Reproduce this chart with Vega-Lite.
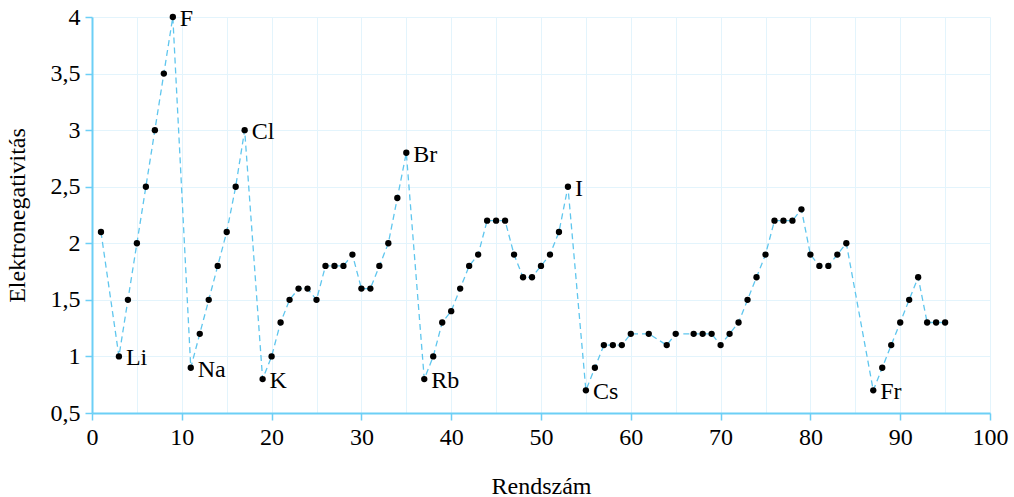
{
  "$schema": "https://vega.github.io/schema/vega-lite/v6.json",
  "width": 898,
  "height": 396,
  "autosize": "none",
  "padding": {"left": 92, "top": 17, "right": 24, "bottom": 84},
  "background": "white",
  "config": {
    "font": "Liberation Serif",
    "view": {"stroke": null}
  },
  "data": {"values": [
    {"z":1,"en":2.1,"sym":""},{"z":3,"en":1.0,"sym":"Li"},{"z":4,"en":1.5,"sym":""},{"z":5,"en":2.0,"sym":""},{"z":6,"en":2.5,"sym":""},{"z":7,"en":3.0,"sym":""},{"z":8,"en":3.5,"sym":""},{"z":9,"en":4.0,"sym":"F"},
    {"z":11,"en":0.9,"sym":"Na"},{"z":12,"en":1.2,"sym":""},{"z":13,"en":1.5,"sym":""},{"z":14,"en":1.8,"sym":""},{"z":15,"en":2.1,"sym":""},{"z":16,"en":2.5,"sym":""},{"z":17,"en":3.0,"sym":"Cl"},
    {"z":19,"en":0.8,"sym":"K"},{"z":20,"en":1.0,"sym":""},{"z":21,"en":1.3,"sym":""},{"z":22,"en":1.5,"sym":""},{"z":23,"en":1.6,"sym":""},{"z":24,"en":1.6,"sym":""},{"z":25,"en":1.5,"sym":""},{"z":26,"en":1.8,"sym":""},{"z":27,"en":1.8,"sym":""},{"z":28,"en":1.8,"sym":""},{"z":29,"en":1.9,"sym":""},{"z":30,"en":1.6,"sym":""},{"z":31,"en":1.6,"sym":""},{"z":32,"en":1.8,"sym":""},{"z":33,"en":2.0,"sym":""},{"z":34,"en":2.4,"sym":""},{"z":35,"en":2.8,"sym":"Br"},
    {"z":37,"en":0.8,"sym":"Rb"},{"z":38,"en":1.0,"sym":""},{"z":39,"en":1.3,"sym":""},{"z":40,"en":1.4,"sym":""},{"z":41,"en":1.6,"sym":""},{"z":42,"en":1.8,"sym":""},{"z":43,"en":1.9,"sym":""},{"z":44,"en":2.2,"sym":""},{"z":45,"en":2.2,"sym":""},{"z":46,"en":2.2,"sym":""},{"z":47,"en":1.9,"sym":""},{"z":48,"en":1.7,"sym":""},{"z":49,"en":1.7,"sym":""},{"z":50,"en":1.8,"sym":""},{"z":51,"en":1.9,"sym":""},{"z":52,"en":2.1,"sym":""},{"z":53,"en":2.5,"sym":"I"},
    {"z":55,"en":0.7,"sym":"Cs"},{"z":56,"en":0.9,"sym":""},{"z":57,"en":1.1,"sym":""},{"z":58,"en":1.1,"sym":""},{"z":59,"en":1.1,"sym":""},{"z":60,"en":1.2,"sym":""},{"z":62,"en":1.2,"sym":""},{"z":64,"en":1.1,"sym":""},{"z":65,"en":1.2,"sym":""},{"z":67,"en":1.2,"sym":""},{"z":68,"en":1.2,"sym":""},{"z":69,"en":1.2,"sym":""},{"z":70,"en":1.1,"sym":""},{"z":71,"en":1.2,"sym":""},{"z":72,"en":1.3,"sym":""},{"z":73,"en":1.5,"sym":""},{"z":74,"en":1.7,"sym":""},{"z":75,"en":1.9,"sym":""},{"z":76,"en":2.2,"sym":""},{"z":77,"en":2.2,"sym":""},{"z":78,"en":2.2,"sym":""},{"z":79,"en":2.3,"sym":""},{"z":80,"en":1.9,"sym":""},{"z":81,"en":1.8,"sym":""},{"z":82,"en":1.8,"sym":""},{"z":83,"en":1.9,"sym":""},{"z":84,"en":2.0,"sym":""},
    {"z":87,"en":0.7,"sym":"Fr"},{"z":88,"en":0.9,"sym":""},{"z":89,"en":1.1,"sym":""},{"z":90,"en":1.3,"sym":""},{"z":91,"en":1.5,"sym":""},{"z":92,"en":1.7,"sym":""},{"z":93,"en":1.3,"sym":""},{"z":94,"en":1.3,"sym":""},{"z":95,"en":1.3,"sym":""}
  ]},
  "encoding": {
    "x": {"field": "z", "type": "quantitative", "scale": {"domain": [0, 100], "nice": false},
      "axis": {"values": [0,5,10,15,20,25,30,35,40,45,50,55,60,65,70,75,80,85,90,95,100],
        "labelExpr": "datum.value % 10 === 0 ? datum.label : ''",
        "labelFlush": false, "labelOverlap": false,
        "grid": true, "gridColor": "#e3f4fc", "gridWidth": 1,
        "domainColor": "#6ccff6", "domainWidth": 2,
        "tickColor": {"condition": {"test": "datum.value % 10 === 0", "value": "#6ccff6"}, "value": "transparent"},
        "tickSize": 7, "tickWidth": 1.5, "labelPadding": 5,
        "labelFont": "Liberation Serif", "labelFontSize": 24, "labelColor": "black",
        "title": "Rendszám", "titleFont": "Liberation Serif", "titleFontSize": 24, "titleFontWeight": "normal", "titleColor": "black", "titlePadding": 25}},
    "y": {"field": "en", "type": "quantitative", "scale": {"domain": [0.5, 4], "nice": false, "zero": false},
      "axis": {"values": [0.5,1,1.5,2,2.5,3,3.5,4], "format": ".1~f", "labelExpr": "replace(datum.label, '.', ',')",
        "labelFlush": false, "labelOverlap": false,
        "grid": true, "gridColor": "#e3f4fc", "gridWidth": 1,
        "domainColor": "#6ccff6", "domainWidth": 2, "tickColor": "#6ccff6", "tickSize": 7, "tickWidth": 1.5, "labelPadding": 5,
        "labelFont": "Liberation Serif", "labelFontSize": 24, "labelColor": "black",
        "title": "Elektronegativitás", "titleFont": "Liberation Serif", "titleFontSize": 24, "titleFontWeight": "normal", "titleColor": "black", "titlePadding": 21}}
  },
  "layer": [
    {
      "mark": {"type": "line", "color": "#5fc6ee", "strokeWidth": 1.3, "strokeDash": [6, 4]}
    },
    {
      "mark": {"type": "circle", "color": "black", "opacity": 1, "size": 40}
    },
    {
      "mark": {"type": "text", "align": "left", "baseline": "middle", "dx": 7, "dy": 2, "fontSize": 24, "font": "Liberation Serif", "color": "black"},
      "encoding": {
        "text": {"field": "sym"}
      }
    }
  ]
}
